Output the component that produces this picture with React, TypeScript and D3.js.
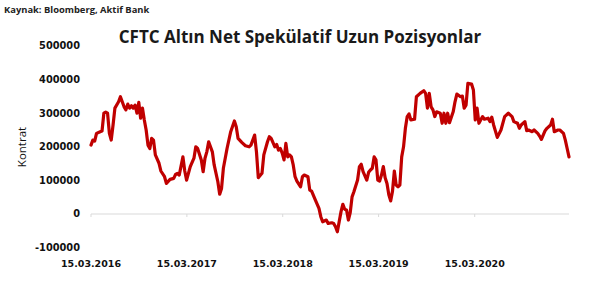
import React from "react";
import * as d3 from "d3";

const START = "2016-03-15";
const weeks: number[] = [
  0, 1, 2, 3, 5, 6, 7, 8, 9, 10, 11, 12, 13, 15, 16, 17, 18, 19, 20, 21, 22, 23, 24, 25, 26, 27, 28, 29, 30, 31, 32, 33, 34, 35, 37, 38, 40, 41, 43, 45, 46, 47, 48, 50, 51, 52, 54, 56, 57, 58, 60, 61, 62, 63, 64, 66, 67, 69, 70, 71, 72, 74, 76, 78, 79, 80, 82, 84, 86,
  87, 89, 90, 91, 93, 94, 96, 97, 98, 100, 101, 102, 103, 104, 105, 106, 107, 108, 109, 110, 111, 112, 114, 115, 116, 118, 119, 120, 122, 124, 125, 126, 128, 129, 131, 132, 133, 134, 136, 137, 138, 139, 140, 141, 142, 143, 145, 146, 147, 148, 150, 151, 152, 153, 154, 155, 156, 157, 158, 159, 160, 161, 162, 163, 164, 165, 166, 167, 168, 169,
  170, 171, 172, 173, 174, 176, 177, 179, 181, 182, 183, 184, 185, 186, 187, 188, 190, 191, 192, 193, 194, 195, 197, 198, 199, 201, 202, 203, 204, 205, 207, 208, 209, 210, 211, 213, 214, 216, 217, 218, 219, 221, 223, 225, 227, 229, 230, 232, 233, 234, 236, 237, 238, 240, 241, 243, 244, 245, 247, 248, 250, 251, 252, 254, 255, 257, 258, 259, 260,
];
const values: number[] = [
  205, 220, 217, 240, 245, 247, 300, 303, 300, 240, 220, 265, 315, 334, 349, 334, 319, 310, 327, 315, 322, 315, 324, 300, 332, 285, 315, 280, 250, 205, 195, 225, 220, 176, 151, 128, 111, 91, 103, 106, 118, 121, 116, 170, 128, 101, 141, 166, 200, 195, 161, 126, 166, 185, 215, 185, 146, 96, 59, 76, 136, 195, 245, 277, 260, 225, 213, 203, 200,
  205, 235, 185, 108, 121, 176, 215, 230, 225, 200, 207, 190, 195, 181, 161, 210, 170, 176, 170, 146, 111, 98, 81, 111, 116, 111, 71, 68, 42, 17, -8, -23, -18, -28, -26, -28, -38, -53, 7, 29, 14, 12, -18, 4, 51, 66, 101, 141, 148, 126, 101, 124, 131, 136, 170, 161, 101, 98, 116, 141, 108, 91, 57, 39, 68, 128, 86, 81, 86, 170,
  200, 255, 290, 298, 280, 282, 349, 359, 367, 359, 315, 359, 319, 310, 290, 304, 300, 270, 300, 270, 300, 272, 304, 334, 357, 349, 351, 315, 324, 389, 387, 369, 280, 315, 270, 290, 282, 285, 275, 288, 265, 228, 250, 290, 300, 290, 275, 270, 255, 265, 275, 248, 250, 245, 250, 240, 232, 222, 248, 255, 265, 282, 245, 250, 250, 240, 220, 195, 170,
].map((v) => v * 1000);

const yTicks: number[] = [-100000, 0, 100000, 200000, 300000, 400000, 500000];
const xTickDates: string[] = ["2016-03-15", "2017-03-15", "2018-03-15", "2019-03-15", "2020-03-15"];
const xTickLabels: string[] = ["15.03.2016", "15.03.2017", "15.03.2018", "15.03.2019", "15.03.2020"];
const title = "CFTC Altın Net Spekülatif Uzun Pozisyonlar";
const source = "Kaynak: Bloomberg, Aktif Bank";
const yLabel = "Kontrat";

export default function App() {
  const W = 600, H = 286;
  const parse = d3.utcParse("%Y-%m-%d");
  const start = parse(START)!;
  const dates = weeks.map((w) => d3.utcDay.offset(start, w * 7));
  const data = dates.map((d, i) => ({ d, v: values[i] }));
  const x = d3.scaleUtc().domain([start, d3.utcDay.offset(start, 260 * 7)]).range([91, 569]);
  const y = d3.scaleLinear().domain([-100000, 500000]).range([247.6, 46]);
  const line = d3.line<{ d: Date; v: number }>().x((p) => x(p.d)).y((p) => y(p.v));
  const axisFont = "'DejaVu Sans', sans-serif";
  return (
    <svg width={W} height={H} style={{ position: "absolute", left: 0, top: 0, background: "#fff" }}>
      <text x={4} y={13} fontFamily="'Open Sans', sans-serif" fontWeight="bold" fontSize={9.4} fill="#222">{source}</text>
      <text x={300} y={43} textAnchor="middle" fontFamily="'Open Sans', sans-serif" fontWeight="bold" fontSize={17} fill="#1a1a1a">{title}</text>
      <text transform={`translate(26,147) rotate(-90)`} textAnchor="middle" fontFamily="'Open Sans', sans-serif" fontSize={11.5} fill="#111">{yLabel}</text>
      {yTicks.map((t) => (
        <text key={t} x={80} y={y(t)} dy="0.35em" textAnchor="end" fontFamily={axisFont} fontWeight="bold" fontSize={9.8} fill="#111">{t}</text>
      ))}
      <line x1={x.range()[0]} x2={x.range()[1]} y1={y(0)} y2={y(0)} stroke="#d9d9d9" strokeWidth={1} />
      {xTickDates.map((s, i) => {
        const xp = x(parse(s)!);
        return (
          <g key={s}>
            <line x1={xp} x2={xp} y1={y(0)} y2={y(0) + 3} stroke="#d9d9d9" />
            <text x={xp} y={267} textAnchor="middle" fontFamily={axisFont} fontWeight="bold" fontSize={9.5} fill="#111">{xTickLabels[i]}</text>
          </g>
        );
      })}
      <path d={line(data) || ""} fill="none" stroke="#c00000" strokeWidth={3.2} strokeLinejoin="round" strokeLinecap="round" />
    </svg>
  );
}
